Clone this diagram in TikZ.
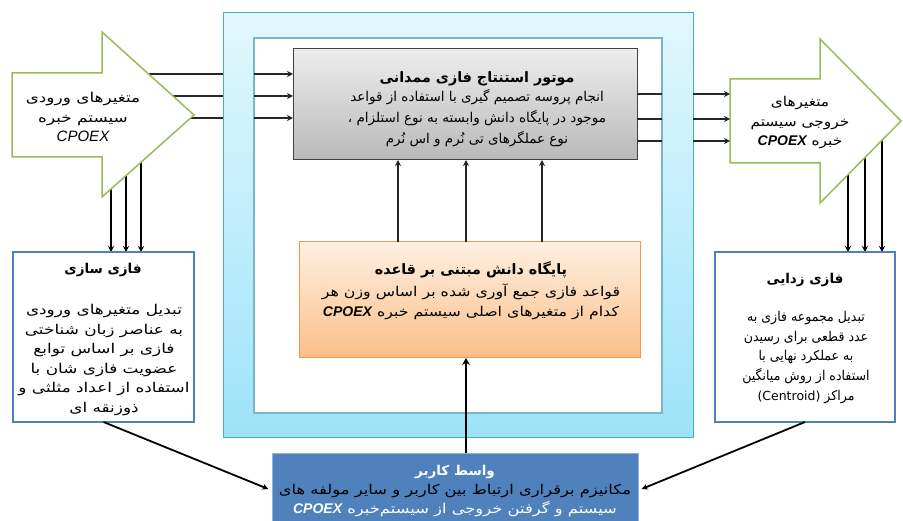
\documentclass[tikz,border=0pt]{standalone}
\usepackage{fontspec}
\TeXXeTstate=1
\newfontfamily\fa[Script=Arabic]{DejaVu Sans}
\newfontfamily\faK[Script=Arabic,FakeStretch=1.17]{DejaVu Sans}
\newfontfamily\faF[Script=Arabic,FakeStretch=1.25]{DejaVu Sans}
\newfontfamily\faD[Script=Arabic,FakeStretch=0.93]{DejaVu Sans}
\newfontfamily\faL[Script=Arabic,FakeStretch=1.25]{DejaVu Sans}
\newfontfamily\faR[Script=Arabic,FakeStretch=1.14]{DejaVu Sans}
\newfontfamily\faU[Script=Arabic,FakeStretch=1.21]{DejaVu Sans}
\newfontfamily\lat{Liberation Sans}
\newfontfamily\latD{DejaVu Sans}
\usetikzlibrary{arrows.meta,backgrounds}
\definecolor{frametop}{HTML}{E2F7FD}
\definecolor{framebot}{HTML}{9DE3F8}
\definecolor{frameline}{HTML}{4BACC6}
\definecolor{innerline}{HTML}{78B7C8}
\definecolor{graytop}{HTML}{EDEDED}
\definecolor{graybot}{HTML}{B9B9B9}
\definecolor{grayline}{HTML}{404040}
\definecolor{ortop}{HTML}{FEF0E2}
\definecolor{orbot}{HTML}{FBBE88}
\definecolor{orline}{HTML}{F79646}
\definecolor{grn}{HTML}{9BBB59}
\definecolor{blu}{HTML}{4F81BD}
\definecolor{uiline}{HTML}{8DB3E2}
\newcommand{\rtl}[1]{\beginR #1\endR}
\newcommand{\cpo}{\beginL{\lat\bfseries\itshape\fontsize{14}{14}\selectfont CPOEX}\endL}
\newcommand{\ttl}{\fa\bfseries\fontsize{14.3}{20}\selectfont}
\newcommand{\ttls}{\fa\bfseries\fontsize{13.5}{20}\selectfont}
\begin{document}
\begin{tikzpicture}[x=1pt,y=-1pt,
  box/.style={anchor=north west, inner sep=0pt, outer sep=0pt},
  txt/.style={align=center, inner sep=0pt},
  thin conn/.style={draw=black!85, line width=1.1pt},
  thick conn/.style={draw=black, line width=2.2pt},
  tipA/.style={-{Stealth[length=6pt,width=6pt]}},
  tipB/.style={-{Stealth[length=7pt,width=8pt]}}]
\useasboundingbox (0,0) rectangle (903,521);

% coordinates for connector positions
\coordinate (yA) at (0,74);
\coordinate (yB) at (0,96);
\coordinate (yC) at (0,118);
\coordinate (yD) at (0,94);
\coordinate (yE) at (0,119);
\coordinate (yF) at (0,141);
\coordinate (xA) at (111,0);
\coordinate (xB) at (126,0);
\coordinate (xC) at (141,0);
\coordinate (xD) at (848,0);
\coordinate (xE) at (865,0);
\coordinate (xF) at (882,0);
\coordinate (xG) at (398,0);
\coordinate (xH) at (466,0);
\coordinate (xI) at (542,0);

% central frame
\node[box, draw=frameline, line width=1pt, top color=frametop, bottom color=framebot,
  minimum width=470, minimum height=425] (frame) at (223,13) {};
\node[box, draw=innerline, line width=2pt, fill=white,
  minimum width=408, minimum height=375] (inner) at (254,38) {};

% inference engine
\node[box, draw=grayline, line width=1pt, top color=graytop, bottom color=graybot,
  minimum width=344, minimum height=111] (gray) at (293,49) {};
\node[txt, anchor=north, font=\fa\fontsize{13.5}{21}\selectfont] (grayT) at (477,71) {%
  {\ttl\rtl{موتور استنتاج فازی ممدانی}}\\[-2pt]
  \rtl{انجام پروسه تصمیم گیری با استفاده از قواعد}\\
  \rtl{موجود در پایگاه دانش وابسته به نوع استلزام ،}\\
  \rtl{نوع عملگرهای تی نُرم و اس نُرم}};

% knowledge base
\node[box, draw=orline, line width=1pt, top color=ortop, bottom color=orbot,
  minimum width=341, minimum height=116] (kb) at (299,242) {};
\node[txt, anchor=north, font=\faK\fontsize{13.5}{19.5}\selectfont] (kbT) at (471,261) {%
  {\ttl\rtl{پایگاه دانش مبتنی بر قاعده}}\\[3pt]
  \rtl{قواعد فازی جمع آوری شده بر اساس وزن هر}\\
  \rtl{کدام از متغیرهای اصلی سیستم خبره \cpo}};

% fuzzification
\node[box, draw=blu, line width=1.5pt, fill=white,
  minimum width=181, minimum height=170] (fuzz) at (13,252) {};
\node[txt, anchor=north] (fuzzH) at (103,263) {\ttls\rtl{فازی سازی}};
\node[txt, anchor=north, font=\faF\fontsize{13.5}{19.6}\selectfont] (fuzzT) at (104,304) {%
  \rtl{تبدیل متغیرهای ورودی}\\
  \rtl{به عناصر زبان شناختی}\\
  \rtl{فازی بر اساس توابع}\\
  \rtl{عضویت فازی شان با}\\
  \rtl{استفاده از اعداد مثلثی و}\\
  \rtl{ذوزنقه ای}};

% defuzzification
\node[box, draw=blu, line width=1.5pt, fill=white,
  minimum width=180, minimum height=170] (defuzz) at (715,252) {};
\node[txt, anchor=north] (defuzzH) at (805,273) {\ttls\rtl{فازی زدایی}};
\node[txt, anchor=north, font=\faD\fontsize{13.5}{19.7}\selectfont] (defuzzT) at (806,311) {%
  \rtl{تبدیل مجموعه فازی به}\\
  \rtl{عدد قطعی برای رسیدن}\\
  \rtl{به عملکرد نهایی با}\\
  \rtl{استفاده از روش میانگین}\\
  \rtl{مراکز \beginL{\latD\fontsize{12.5}{12}\selectfont (Centroid)}\endL}};

% user interface
\node[box, draw=uiline, line width=1pt, fill=blu,
  minimum width=366, minimum height=75] (ui) at (272,453) {};
\node[txt, anchor=north, font=\faU\fontsize{13.5}{19}\selectfont] (uiT) at (455,465) {%
  {\color{white}\fa\bfseries\fontsize{13.5}{19}\selectfont\rtl{واسط کاربر}}\\
  \rtl{مکانیزم برقراری ارتباط بین کاربر و سایر مولفه های}\\
  \rtl{سیستم و گرفتن خروجی از سیستم‌خبره {\color{white}\cpo}}};

% arrow bodies
\node[box, minimum width=90, minimum height=84] (bodyL) at (12,73) {};
\node[box, minimum width=90, minimum height=84] (bodyR) at (730,79) {};

\begin{scope}[on background layer]
  \foreach \yy in {yA,yB,yC} \draw[thin conn] (bodyL.center |- \yy) -- (frame.west |- \yy);
  \foreach \xx in {xA,xB,xC} \draw[thick conn,tipA] (\xx |- bodyL.center) -- (\xx |- fuzz.north);
  \foreach \xx in {xD,xE,xF} \draw[thick conn,tipA] (\xx |- bodyR.center) -- (\xx |- defuzz.north);
\end{scope}

\draw[grn, line width=1.5pt, fill=white, line join=miter]
  (bodyL.north west) -- (bodyL.north east) -- (102,32) -- (194,115) -- (102,197)
  -- (bodyL.south east) -- (bodyL.south west) -- cycle;
\draw[grn, line width=1.5pt, fill=white, line join=miter]
  (bodyR.north west) -- (bodyR.north east) -- (820,39) -- (901,121) -- (820,203)
  -- (bodyR.south east) -- (bodyR.south west) -- cycle;

\node[txt, font=\faL\fontsize{13.5}{19.5}\selectfont] (inL) at (83,117) {%
  \rtl{متغیرهای ورودی}\\
  \rtl{سیستم خبره}\\
  {\lat\itshape\fontsize{15}{19.5}\selectfont CPOEX}};
\node[txt, font=\faR\fontsize{13.5}{19.5}\selectfont] (inR) at (800,123) {%
  \rtl{متغیرهای}\\
  \rtl{خروجی سیستم}\\
  \rtl{خبره \cpo}};

% connectors
\foreach \yy in {yA,yB,yC} \draw[thin conn,tipA] (inner.west |- \yy) -- (gray.west |- \yy);
\foreach \yy in {yD,yE,yF} {
  \draw[thin conn] (gray.east |- \yy) -- (inner.east |- \yy);
  \draw[thin conn,tipA] (frame.east |- \yy) -- (bodyR.west |- \yy);
}
\foreach \xx in {xG,xH,xI} \draw[thin conn,tipA] (\xx |- kb.north) -- (\xx |- gray.south);
\draw[thick conn,tipB] (xH |- ui.north) -- (xH |- kb.south);
\draw[draw=black, line width=1.8pt, tipA, shorten >=4pt] (fuzz.south) -- (ui.west);
\draw[draw=black, line width=1.8pt, tipA, shorten >=4pt] (defuzz.south) -- (ui.east);
\end{tikzpicture}
\end{document}
